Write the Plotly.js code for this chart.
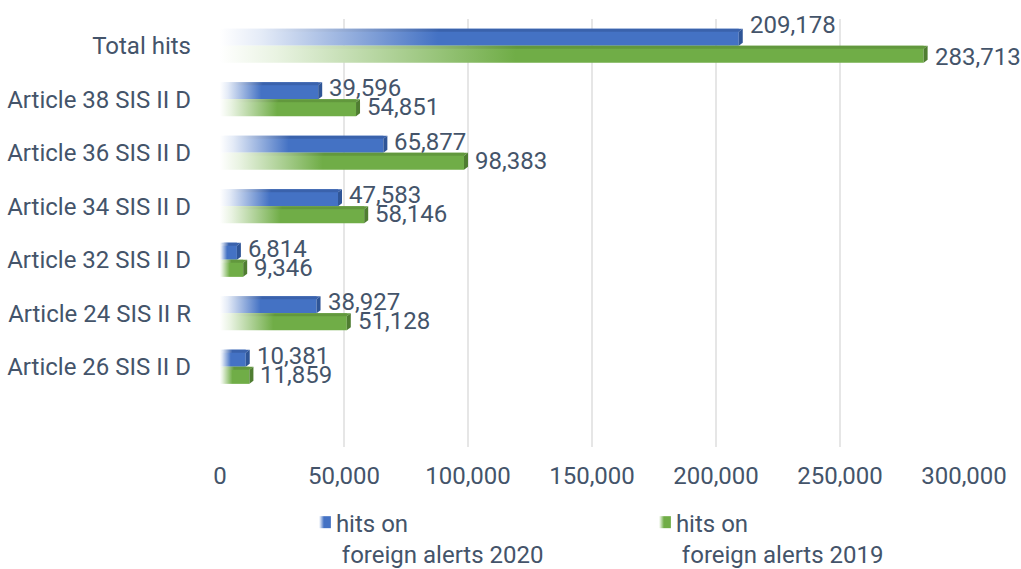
<!DOCTYPE html>
<html>
<head>
<meta charset="utf-8">
<script src="https://cdn.plot.ly/plotly-3.0.1.min.js"></script>
<style>
  html, body { margin: 0; padding: 0; background: #ffffff; }
  #chart { width: 1021px; height: 569px; }
</style>
</head>
<body>
<div id="chart"></div>
<script>
// ---- data ----
const categories = [
  "Total hits",
  "Article 38 SIS II D",
  "Article 36 SIS II D",
  "Article 34 SIS II D",
  "Article 32 SIS II D",
  "Article 24 SIS II R",
  "Article 26 SIS II D"
];
const hits2020 = [209178, 39596, 65877, 47583, 6814, 38927, 10381];
const hits2019 = [283713, 54851, 98383, 58146, 9346, 51128, 11859];
const seriesNames = ["hits on<br>\u00a0foreign alerts 2020", "hits on<br>\u00a0foreign alerts 2019"];
const xTickVals = [0, 50000, 100000, 150000, 200000, 250000, 300000];

// ---- style ----
const TXT = "#44546A";
const FONT = "Roboto, 'Noto Sans', sans-serif";
const FS = 24;
const colors = [
  { front: "#4472C4", top: "#3A62AC", side: "#2F5597", light: "#E4EBF7" },
  { front: "#70AD47", top: "#62983D", side: "#4F7D31", light: "#E9F3E2" }
];
const legendIds = ["legend", "legend2"];

const traces = [hits2020, hits2019].map((vals, i) => ({
  type: "bar",
  orientation: "h",
  name: seriesNames[i],
  legend: legendIds[i],
  x: vals,
  y: categories,
  marker: { color: colors[i].front, line: { width: 0 } },
  hoverinfo: "skip"
}));

const annotations = [];
categories.forEach((c, ci) => {
  annotations.push({
    x: hits2020[ci], y: c, xref: "x", yref: "y",
    text: hits2020[ci].toLocaleString("en-US"),
    showarrow: false, xanchor: "left", yanchor: "middle",
    xshift: 9, yshift: ci === 0 ? 21 : 11,
    font: { family: FONT, size: FS, color: TXT }
  });
  annotations.push({
    x: hits2019[ci], y: c, xref: "x", yref: "y",
    text: hits2019[ci].toLocaleString("en-US"),
    showarrow: false, xanchor: "left", yanchor: "middle",
    xshift: 9, yshift: ci === 0 ? -11 : -8,
    font: { family: FONT, size: FS, color: TXT }
  });
});

function legendCfg(x) {
  return {
    orientation: "h",
    x: x, xanchor: "left",
    y: -0.124, yanchor: "top",
    valign: "top",
    itemwidth: 30,
    bgcolor: "rgba(0,0,0,0)",
    font: { family: FONT, size: FS, color: TXT }
  };
}

const layout = {
  width: 1021,
  height: 569,
  margin: { l: 220, r: 57, t: 19, b: 122, autoexpand: false },
  paper_bgcolor: "#ffffff",
  plot_bgcolor: "#ffffff",
  font: { family: FONT, size: FS, color: TXT },
  barmode: "group",
  bargap: 0.36,
  bargroupgap: 0,
  showlegend: true,
  legend: legendCfg(0.102),
  legend2: legendCfg(0.559),
  xaxis: {
    range: [0, 300000],
    tickvals: xTickVals,
    ticktext: xTickVals.map(v => v.toLocaleString("en-US")),
    showgrid: true,
    gridcolor: "#E6E6E6",
    gridwidth: 2,
    zeroline: false,
    showline: false,
    ticks: "",
    ticklabelstandoff: 12,
    tickfont: { family: FONT, size: FS, color: TXT },
    fixedrange: true
  },
  yaxis: {
    type: "category",
    categoryorder: "array",
    categoryarray: categories,
    range: [7.5, -0.5],
    showgrid: false,
    zeroline: false,
    showline: false,
    ticks: "",
    ticklabelstandoff: 28,
    tickfont: { family: FONT, size: FS, color: TXT },
    fixedrange: true
  },
  annotations: annotations
};

const NS = "http://www.w3.org/2000/svg";
function mkGrad(defs, id, light, full, stop) {
  const g = document.createElementNS(NS, "linearGradient");
  g.setAttribute("id", id);
  g.setAttribute("x1", "0"); g.setAttribute("y1", "0");
  g.setAttribute("x2", "1"); g.setAttribute("y2", "0");
  [[0, "#ffffff"], [0.08, light], [stop, full], [1, full]].forEach(([o, c]) => {
    const s = document.createElementNS(NS, "stop");
    s.setAttribute("offset", o);
    s.setAttribute("stop-color", c);
    g.appendChild(s);
  });
  defs.appendChild(g);
}
function poly(parent, pts, fill) {
  const p = document.createElementNS(NS, "polygon");
  p.setAttribute("points", pts.map(q => q.join(",")).join(" "));
  p.setAttribute("style", "fill:" + fill + ";stroke:none");
  parent.appendChild(p);
}

Plotly.newPlot("chart", traces, layout, { staticPlot: true, displayModeBar: false }).then(gd => {
  const svg = gd.querySelector("svg.main-svg");
  let defs = svg.querySelector("defs");
  if (!defs) { defs = document.createElementNS(NS, "defs"); svg.insertBefore(defs, svg.firstChild); }
  colors.forEach((c, i) => {
    mkGrad(defs, "gfront" + i, c.light, c.front, 0.42);
    mkGrad(defs, "gtop" + i, c.light, c.top, 0.42);
  });
  const D = 4, H = 3;
  gd.querySelectorAll(".barlayer .trace").forEach((tr, ti) => {
    tr.querySelectorAll(".point").forEach(pt => {
      const path = pt.querySelector("path");
      if (!path) return;
      path.style.fill = "url(#gfront" + ti + ")";
      const b = path.getBBox();
      const x1 = b.x, x2 = b.x + b.width, y1 = b.y, y2 = b.y + b.height;
      poly(pt, [[x1, y1 + H], [x1 + D, y1], [x2 + D, y1], [x2, y1 + H]], "url(#gtop" + ti + ")");
      poly(pt, [[x2, y1 + H], [x2 + D, y1], [x2 + D, y2 - H], [x2, y2]], colors[ti].side);
    });
  });
  legendIds.forEach((lid, ti) => {
    const lg = gd.querySelector("g." + lid);
    if (!lg) return;
    lg.querySelectorAll(".legendpoints").forEach(g => {
      g.setAttribute("transform", "translate(9,0)");
      g.querySelectorAll("path").forEach(p => {
        p.style.fill = "url(#gfront" + ti + ")";
        p.style.stroke = "none";
      });
    });
  });
});
</script>
</body>
</html>
